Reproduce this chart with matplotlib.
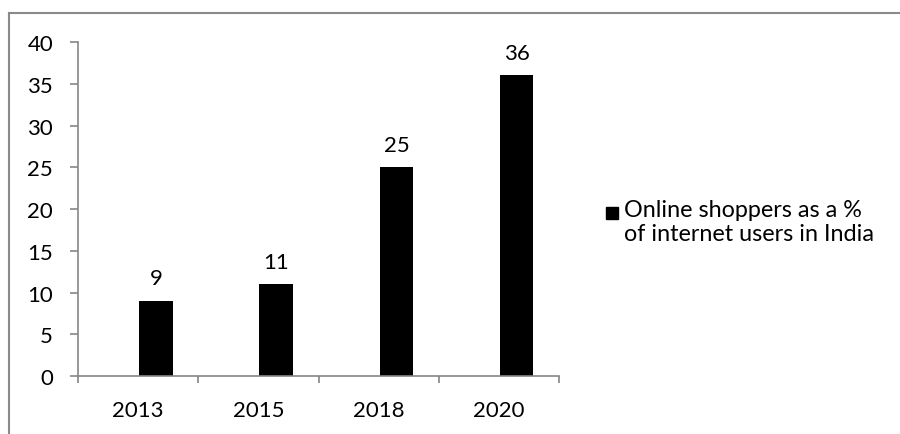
import matplotlib.pyplot as plt
from matplotlib.lines import Line2D
from matplotlib.patches import Rectangle
import numpy as np

plt.rcParams["font.family"] = ["Lato", "DejaVu Sans"]
plt.rcParams["font.size"] = 16

years = ["2013", "2015", "2018", "2020"]
shoppers_pct = [9, 11, 25, 36]
series_label = "Online shoppers as a %\nof internet users in India"

axis_grey = "#868686"

fig = plt.figure(figsize=(9, 4.35), dpi=100)
ax = fig.add_axes([0.0867, 0.1333, 0.5344, 0.7678])

x = np.arange(len(years))
# bar sits right of the category centre (empty first series in original chart)
bars = ax.bar(x + 0.008, shoppers_pct, width=0.28, align="edge", color="black")

for rect, v in zip(bars, shoppers_pct):
    ax.annotate(str(v), (rect.get_x() + rect.get_width() / 2, v),
                xytext=(0, 9), textcoords="offset points",
                ha="center", va="bottom", fontsize=16)

ax.set_xlim(-0.5, len(years) - 0.5)
ax.set_ylim(0, 40)
ax.set_yticks(range(0, 41, 5))

ax.set_xticks(x)
ax.set_xticklabels(years)
ax.set_xticks(np.arange(-0.5, len(years), 1.0), minor=True)
ax.tick_params(axis="x", which="major", length=0, pad=17)
ax.tick_params(axis="x", which="minor", length=5, width=1.2, color=axis_grey, direction="out")
ax.tick_params(axis="y", length=6, width=1.2, color=axis_grey, pad=12, direction="out")

for side in ["top", "right"]:
    ax.spines[side].set_visible(False)
for side in ["left", "bottom"]:
    ax.spines[side].set_color(axis_grey)
    ax.spines[side].set_linewidth(1.2)

# legend drawn by hand so the square lines up with the first text line
fig.patches.append(Rectangle((606 / 900, 1 - 220 / 435), 12 / 900, 12 / 435,
                             transform=fig.transFigure, color="black"))
fig.text(624 / 900, 1 - 200 / 435, series_label, ha="left", va="top",
         fontsize=16.8, linespacing=1.2)

# chart-area outline (only top and left edges visible in the crop)
fig.add_artist(Line2D([8.5 / 900, 1], [1 - 13.5 / 435] * 2, color="#8a8a8a", lw=1.5,
                      transform=fig.transFigure))
fig.add_artist(Line2D([8.5 / 900] * 2, [0, 1 - 13.5 / 435], color="#8a8a8a", lw=1.5,
                      transform=fig.transFigure))

fig.savefig("out.png", dpi=100)
